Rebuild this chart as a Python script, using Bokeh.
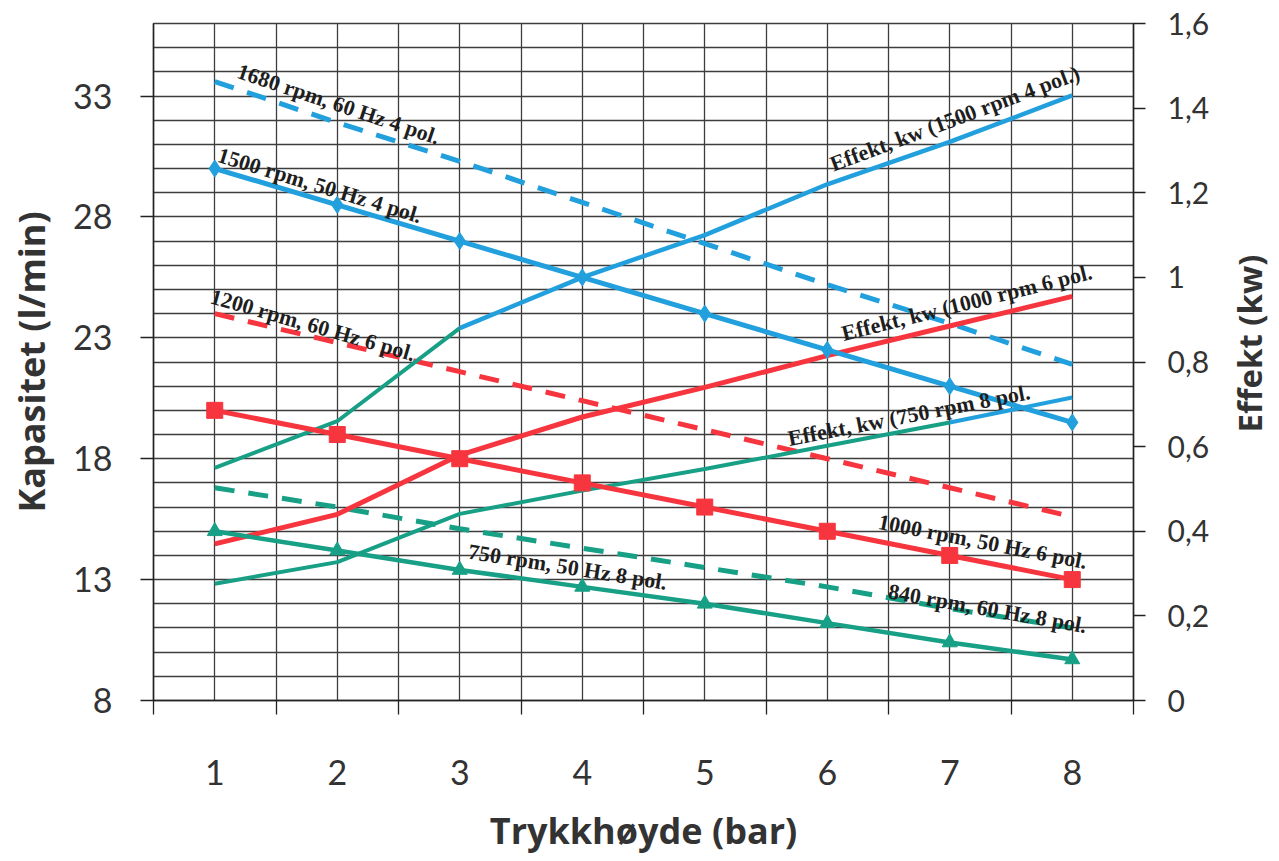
from bokeh.plotting import figure
from bokeh.models import Range1d, LinearAxis, FixedTicker, CustomJSTickFormatter, Label
from bokeh.core.properties import value
from bokeh.embed import file_html
from bokeh.resources import INLINE

# ---------------- data ----------------
pressure = [1, 2, 3, 4, 5, 6, 7, 8]

cap_1500_50hz = [30.0, 28.5, 27.0, 25.5, 24.0, 22.5, 21.0, 19.5]
cap_1680_60hz = [33.6, 31.9, 30.3, 28.6, 26.9, 25.2, 23.6, 21.9]
cap_1200_60hz = [24.0, 22.8, 21.6, 20.4, 19.2, 18.0, 16.8, 15.6]
cap_1000_50hz = [20.0, 19.0, 18.0, 17.0, 16.0, 15.0, 14.0, 13.0]
cap_840_60hz = [16.8, 16.0, 15.1, 14.3, 13.5, 12.7, 11.8, 11.0]
cap_750_50hz = [15.0, 14.2, 13.4, 12.7, 12.0, 11.2, 10.4, 9.7]

pow_1500 = [0.55, 0.66, 0.88, 1.00, 1.10, 1.22, 1.32, 1.43]
pow_1000 = [0.37, 0.44, 0.58, 0.67, 0.74, 0.815, 0.885, 0.955]
pow_750 = [0.276, 0.327, 0.441, 0.496, 0.547, 0.602, 0.657, 0.716]

left_ticks = [8, 13, 18, 23, 28, 33]
right_ticks = [0, 0.2, 0.4, 0.6, 0.8, 1.0, 1.2, 1.4, 1.6]

label_texts = [
    "1680 rpm, 60 Hz 4 pol.",
    "1500 rpm, 50 Hz 4 pol.",
    "1200 rpm, 60 Hz 6 pol.",
    "Effekt, kw (1500 rpm 4 pol.)",
    "Effekt, kw (1000 rpm 6 pol.",
    "Effekt, kw (750 rpm 8 pol.",
    "1000 rpm, 50 Hz 6 pol.",
    "840 rpm, 60 Hz 8 pol.",
    "750 rpm, 50 Hz 8 pol.",
]
# label anchor positions (left-middle of text, in left-axis units) and angles
label_x = [1.19, 1.03, 0.97, 6.03, 6.12, 5.68, 6.42, 6.50, 3.07]
label_y = [34.06, 30.59, 24.74, 30.16, 23.17, 18.83, 15.41, 12.53, 14.18]
label_angle = [-18.5, -17, -16, 20.5, 14, 11, -11, -10, -9]

# ---------------- styles ----------------
BLUE = "#22a0dd"
RED = "#f6353f"
GREEN = "#17a086"
GRID = "#3d3d3d"
TXT = "#333333"
TITLE_FONT = "Open Sans"
TICK_FONT = "Lato"

p = figure(width=1279, height=858,
           x_range=Range1d(0.5, 8.5), y_range=Range1d(8, 36),
           output_backend="svg", toolbar_location=None,
           min_border_left=153, min_border_right=146,
           min_border_top=23, min_border_bottom=158)
p.extra_y_ranges = {"pw": Range1d(0, 1.6)}
p.background_fill_color = "white"
p.border_fill_color = "white"
p.outline_line_color = GRID
p.outline_line_width = 1.3

# grids
p.xgrid.ticker = FixedTicker(ticks=[0.5 + 0.5 * i for i in range(17)])
p.ygrid.ticker = FixedTicker(ticks=list(range(8, 37)))
for g in (p.xgrid[0], p.ygrid[0]):
    g.grid_line_color = GRID
    g.grid_line_width = 1.3

# bottom axis
xa = p.below[0]
xa.ticker = FixedTicker(ticks=pressure, minor_ticks=[0.5 + i for i in range(9)])
xa.major_tick_out = 0
xa.major_tick_in = 0
xa.minor_tick_out = 14
xa.minor_tick_in = 0
xa.minor_tick_line_color = "#222222"
xa.minor_tick_line_width = 1.3
xa.axis_line_color = "#222222"
xa.axis_line_width = 1.5
xa.major_label_text_font = TICK_FONT
xa.major_label_text_font_size = "34px"
xa.major_label_text_color = TXT
xa.major_label_standoff = 45
xa.axis_label = "Trykkhøyde (bar)"
xa.axis_label_text_font = TITLE_FONT
xa.axis_label_text_font_style = "bold"
xa.axis_label_text_font_size = "36px"
xa.axis_label_text_color = TXT
xa.axis_label_standoff = 18

# left axis
ya = p.left[0]
ya.ticker = FixedTicker(ticks=left_ticks, minor_ticks=[])
ya.major_tick_out = 13
ya.major_tick_in = 0
ya.major_tick_line_color = "#222222"
ya.major_tick_line_width = 1.3
ya.axis_line_color = "#222222"
ya.axis_line_width = 1.5
ya.major_label_text_font = TICK_FONT
ya.major_label_text_font_size = "34px"
ya.major_label_text_color = TXT
ya.major_label_standoff = 28
ya.axis_label = "Kapasitet (l/min)"
ya.axis_label_text_font = TITLE_FONT
ya.axis_label_text_font_style = "bold"
ya.axis_label_text_font_size = "36px"
ya.axis_label_text_color = TXT
ya.axis_label_standoff = 14

# right axis
ra = LinearAxis(y_range_name="pw",
                ticker=FixedTicker(ticks=right_ticks, minor_ticks=[]),
                formatter=CustomJSTickFormatter(code="""
                    const s = (Math.round(tick * 10) / 10).toString();
                    return s.replace('.', ',');
                """))
ra.major_tick_out = 12
ra.major_tick_in = 0
ra.major_tick_line_color = "#222222"
ra.major_tick_line_width = 1.3
ra.axis_line_color = "#222222"
ra.axis_line_width = 1.5
ra.major_label_text_font = TICK_FONT
ra.major_label_text_font_size = "30px"
ra.major_label_text_color = TXT
ra.major_label_standoff = 22
p.add_layout(ra, "right")

# right axis title (reads bottom-to-top like the left one), placed in the right panel
right_title = Label(x=9.45, y=22.76, text="Effekt (kw)", angle=90, angle_units="deg",
                    text_font=TITLE_FONT, text_font_style="bold", text_font_size="33px",
                    text_color=TXT, text_align="center", text_baseline="middle")
p.add_layout(right_title, "right")

# ---------------- capacity series (dashed, 60 Hz) ----------------
p.line(pressure, cap_1680_60hz, color=BLUE, line_width=5, line_dash="20 14")
p.line(pressure, cap_1200_60hz, color=RED, line_width=5, line_dash="20 14")
p.line(pressure, cap_840_60hz, color=GREEN, line_width=5, line_dash="20 14")

# ---------------- power series (right axis) ----------------
p.line(pressure[:3], pow_1500[:3], color=GREEN, line_width=4, y_range_name="pw")
p.line(pressure[2:], pow_1500[2:], color=BLUE, line_width=4.5, y_range_name="pw")
p.line(pressure, pow_1000, color=RED, line_width=5, y_range_name="pw")
p.line(pressure[:7], pow_750[:7], color=GREEN, line_width=4, y_range_name="pw")
p.line(pressure[6:], pow_750[6:], color=BLUE, line_width=4, y_range_name="pw")

# ---------------- capacity series (solid, 50 Hz) ----------------
p.line(pressure, cap_1500_50hz, color=BLUE, line_width=5)
p.scatter(pressure, cap_1500_50hz, marker="diamond", size=17, color=BLUE)
p.line(pressure, cap_1000_50hz, color=RED, line_width=5)
p.scatter(pressure, cap_1000_50hz, marker="square", size=16, color=RED)
p.line(pressure, cap_750_50hz, color=GREEN, line_width=4.5)
p.scatter(pressure, cap_750_50hz, marker="triangle", size=15, color=GREEN)

# ---------------- in-plot labels ----------------
p.text(x=label_x, y=label_y, text=label_texts, angle=label_angle, angle_units="deg",
       text_font=value("Liberation Serif"), text_font_style="bold",
       text_font_size="22px", text_color="#1e1e1e",
       text_align="left", text_baseline="middle")

open("out.html", "w").write(file_html(p, INLINE))
